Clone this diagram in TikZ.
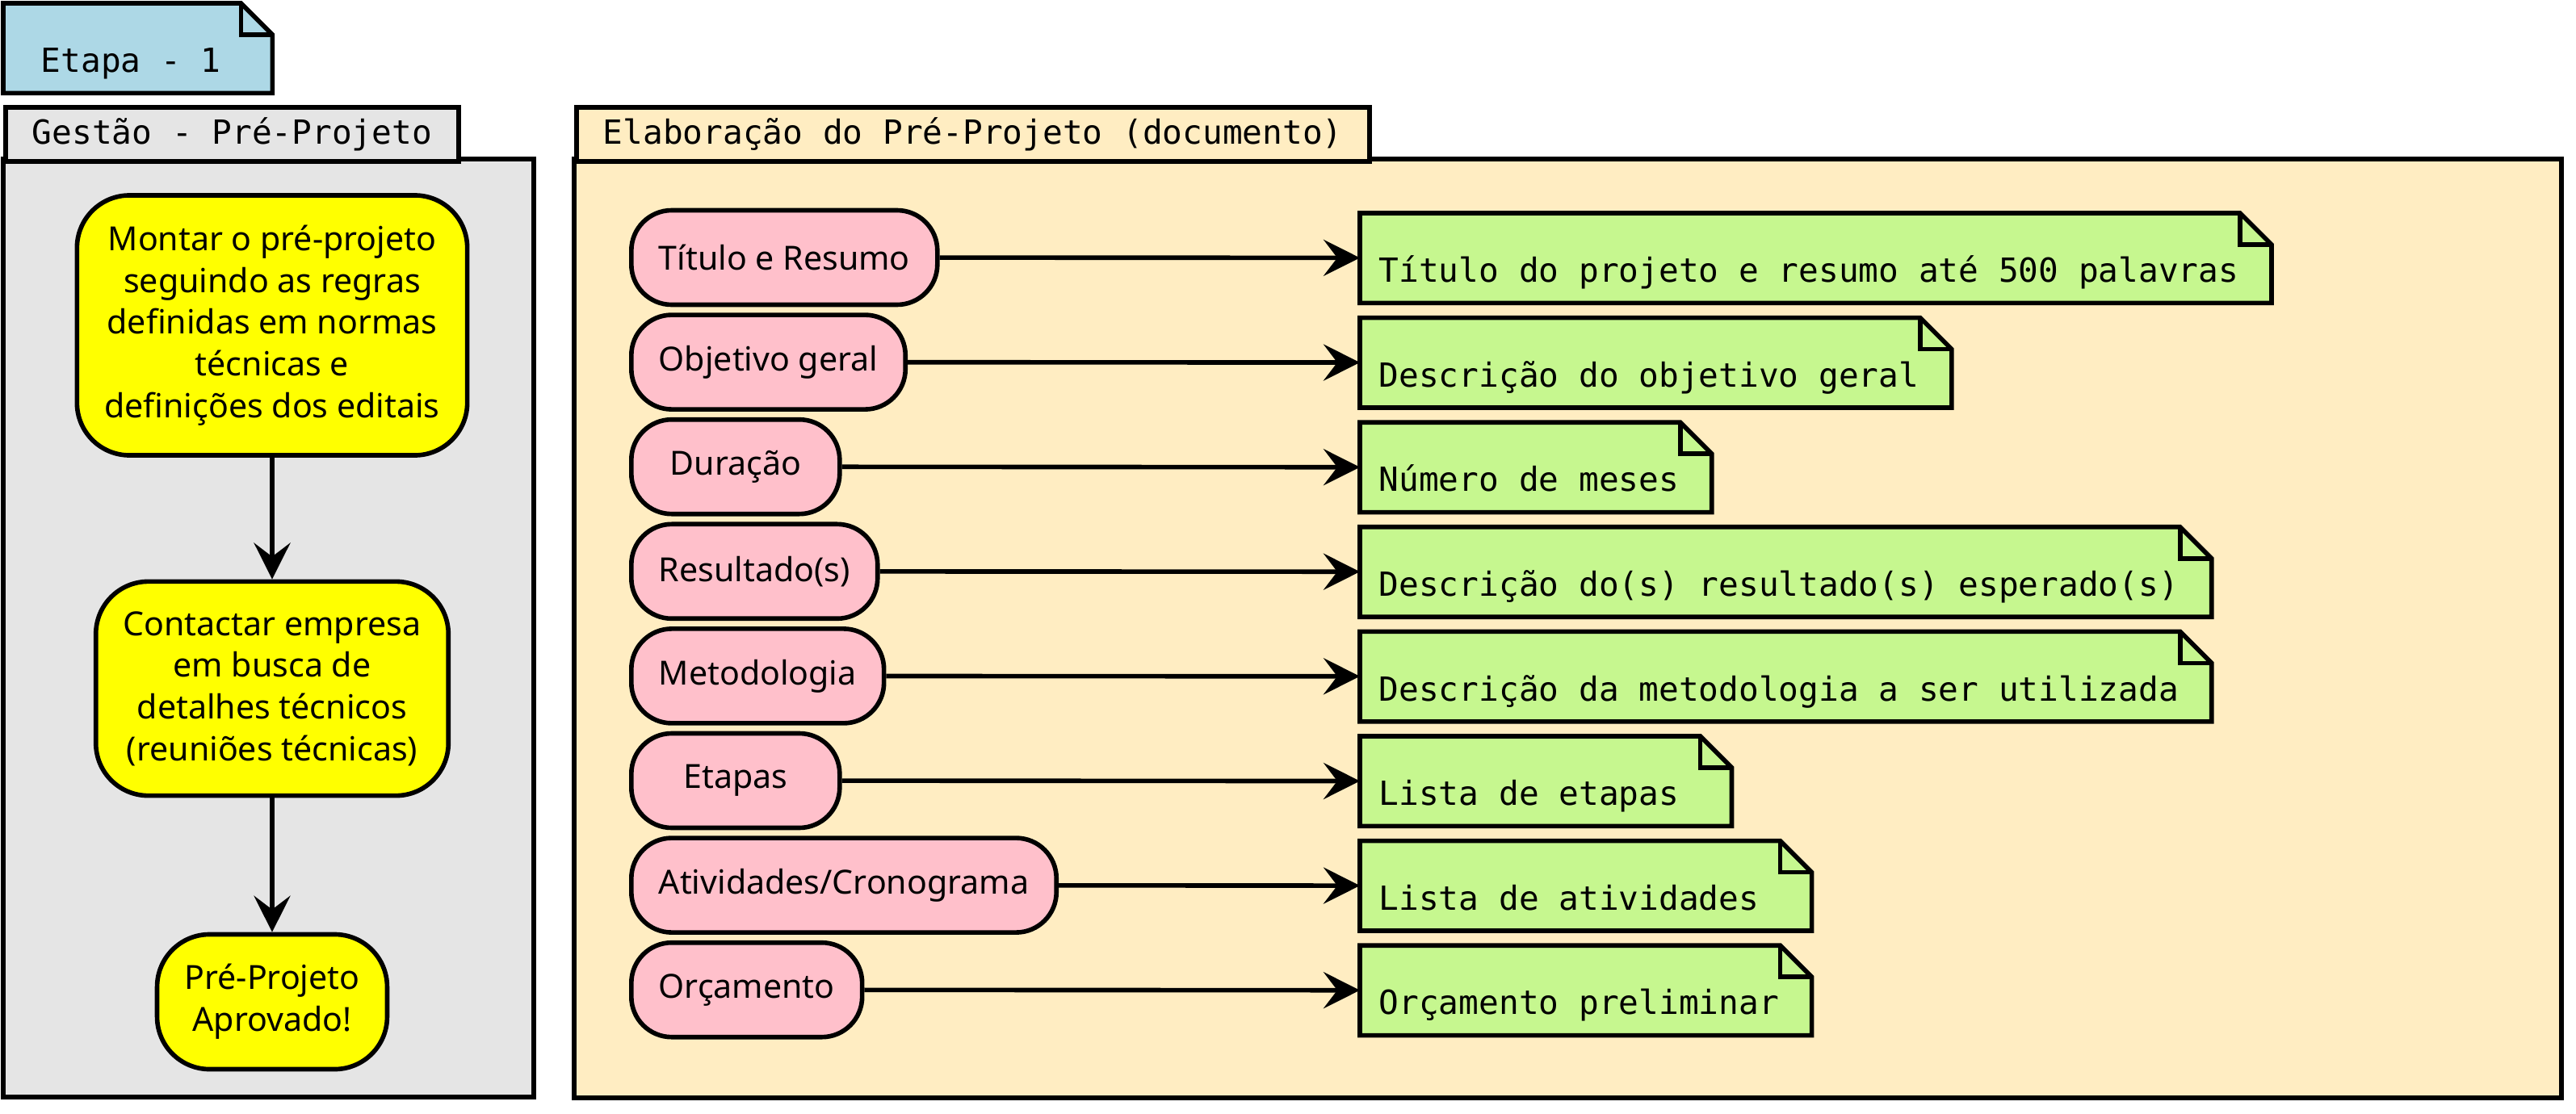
\documentclass[tikz,border=0pt]{standalone}
\usepackage{fontspec}
\setmainfont{Noto Sans}
\setmonofont{DejaVu Sans Mono}
\usepackage{tikz}
\usetikzlibrary{arrows.meta,backgrounds}

\definecolor{azul}{RGB}{173,216,230}
\definecolor{cinza}{RGB}{229,229,229}
\definecolor{creme}{RGB}{255,237,194}
\definecolor{rosa}{RGB}{255,192,203}
\definecolor{amarelo}{RGB}{255,255,0}
\definecolor{verde}{RGB}{198,247,143}

\tikzset{
  borda/.style={draw=black, line width=1.6pt},
  aba/.style={borda, anchor=north west, inner xsep=0.33cm, inner ysep=0pt, text height=0.46cm, text depth=0.21cm, font=\fontsize{11.7pt}{14pt}\ttfamily},
  nota/.style={anchor=north west, inner xsep=0.23cm, inner ysep=0pt, text height=0.85cm, text depth=0.25cm, font=\fontsize{11.7pt}{14pt}\ttfamily, execute at end node={\hspace{0.17cm}}},
  pilula/.style={borda, fill=rosa, rounded corners=0.5cm, anchor=west, minimum height=1.17cm, minimum width=2.58cm, inner xsep=0.34cm, font=\fontsize{11.7pt}{14pt}\selectfont},
  caixa/.style={borda, fill=amarelo, rounded corners=0.65cm, align=center, inner xsep=0.34cm, inner ysep=0.37cm, font=\fontsize{11.7pt}{14.7pt}\selectfont},
  seta/.style={line width=1.6pt, -{Stealth[length=0.45cm, width=0.45cm, inset=0.17cm]}},
  dobra/.style={borda, line join=miter}
}

\begin{document}
\begin{tikzpicture}

\useasboundingbox (0,0) rectangle (31.9,-13.8);

\node[nota, minimum width=3.32cm] (et) at (0.04,-0.04) {Etapa - 1};

\node[aba, fill=cinza] (t1) at (0.04,-1.30) {Gestão - Pré-Projeto};
\node[aba, fill=creme] (t2) at (7.11,-1.30) {Elaboração do Pré-Projeto (documento)};

\node[caixa] (y1) at (3.37,-4.03) {Montar o pré-projeto\\seguindo as regras\\definidas em normas\\técnicas e\\definições dos editais};
\node[caixa] (y2) at (3.37,-8.53) {Contactar empresa\\em busca de\\detalhes técnicos\\(reuniões técnicas)};
\node[caixa] (y3) at (3.37,-12.41) {Pré-Projeto\\Aprovado!};

\draw[seta] (y1) -- (y2);
\draw[seta] (y2) -- (y3);

\node[pilula] (a1) at (7.79,-3.19) {Título e Resumo};
\node[pilula] (a2) at (7.79,-4.486) {Objetivo geral};
\node[pilula] (a3) at (7.79,-5.782) {Duração};
\node[pilula] (a4) at (7.79,-7.078) {Resultado(s)};
\node[pilula] (a5) at (7.79,-8.374) {Metodologia};
\node[pilula] (a6) at (7.79,-9.67) {Etapas};
\node[pilula] (a7) at (7.79,-10.966) {Atividades/Cronograma};
\node[pilula] (a8) at (7.79,-12.262) {Orçamento};

\node[nota] (b1) at (16.84,-2.64) {Título do projeto e resumo até 500 palavras};
\node[nota] (b2) at (16.84,-3.936) {Descrição do objetivo geral};
\node[nota] (b3) at (16.84,-5.232) {Número de meses};
\node[nota] (b4) at (16.84,-6.528) {Descrição do(s) resultado(s) esperado(s)};
\node[nota] (b5) at (16.84,-7.824) {Descrição da metodologia a ser utilizada};
\node[nota] (b6) at (16.84,-9.12) {Lista de etapas\hphantom{s}};
\node[nota] (b7) at (16.84,-10.416) {Lista de atividades\hphantom{s}};
\node[nota] (b8) at (16.84,-11.712) {Orçamento preliminar};

\draw[seta] (a1) -- (b1);
\draw[seta] (a2) -- (b2);
\draw[seta] (a3) -- (b3);
\draw[seta] (a4) -- (b4);
\draw[seta] (a5) -- (b5);
\draw[seta] (a6) -- (b6);
\draw[seta] (a7) -- (b7);
\draw[seta] (a8) -- (b8);

\begin{scope}[on background layer]
\draw[borda, fill=cinza] (0.04,-1.97) rectangle (6.61,-13.59);
\draw[borda, fill=creme] (7.11,-1.97) rectangle (31.72,-13.60);
\foreach \n/\c in {et/azul, b1/verde, b2/verde, b3/verde, b4/verde, b5/verde, b6/verde, b7/verde, b8/verde} {
  \draw[dobra, fill=\c] (\n.north west) -- ([xshift=-0.39cm]\n.north east) -- ([yshift=-0.39cm]\n.north east) -- (\n.south east) -- (\n.south west) -- cycle;
  \draw[dobra] ([xshift=-0.39cm]\n.north east) |- ([yshift=-0.39cm]\n.north east);
}
\end{scope}

\end{tikzpicture}
\end{document}
